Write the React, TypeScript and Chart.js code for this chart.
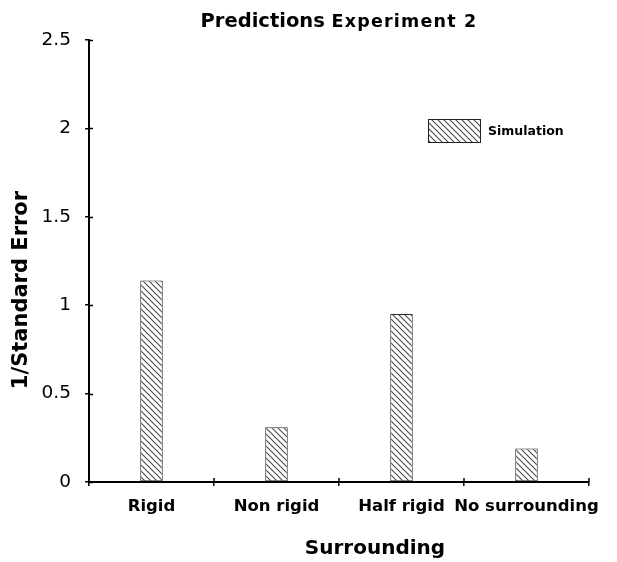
import React, { useEffect, useRef } from "react";
import { Chart, registerables } from "chart.js";

Chart.register(...registerables);

const categories = ["Rigid", "Non rigid", "Half rigid", "No surrounding"];
const simulationValues = [1.14, 0.31, 0.95, 0.19];
const yTickValues = [0, 0.5, 1, 1.5, 2, 2.5];
const yTickLabels = ["0", "0.5", "1", "1.5", "2", "2.5"];
const seriesLabel = "Simulation";
const titleMain = "Predictions";
const titleSub = "Experiment 2";
const xTitle = "Surrounding";
const yTitle = "1/Standard Error";

const FONT = "'DejaVu Sans', 'Liberation Sans', Arial, sans-serif";

function makeHatch(): CanvasPattern | string {
  const c = document.createElement("canvas");
  const s = 6;
  c.width = s;
  c.height = s;
  const g = c.getContext("2d");
  if (!g) return "#fff";
  g.fillStyle = "#fff";
  g.fillRect(0, 0, s, s);
  g.strokeStyle = "#4a4a4a";
  g.lineWidth = 1.1;
  g.beginPath();
  g.moveTo(-1, -1);
  g.lineTo(s + 1, s + 1);
  g.moveTo(-1, s - 1);
  g.lineTo(1, s + 1);
  g.moveTo(s - 1, -1);
  g.lineTo(s + 1, 1);
  g.stroke();
  return g.createPattern(c, "repeat") || "#fff";
}

export default function App() {
  const ref = useRef<HTMLCanvasElement | null>(null);

  useEffect(() => {
    if (!ref.current) return;
    const hatch = makeHatch();

    const decor = {
      id: "decor",
      afterDraw(chart: any) {
        const ctx = chart.ctx;
        const area = chart.chartArea;
        const xs = chart.scales.x;
        const ys = chart.scales.y;
        ctx.save();
        // inner tick stubs
        ctx.strokeStyle = "#000";
        ctx.lineWidth = 1.5;
        ctx.beginPath();
        for (const v of yTickValues) {
          const py = Math.round(ys.getPixelForValue(v)) + 0.5;
          ctx.moveTo(area.left, py);
          ctx.lineTo(area.left + 4, py);
        }
        const step = xs.getPixelForValue(1) - xs.getPixelForValue(0);
        for (let i = 0; i <= categories.length; i++) {
          const px = xs.getPixelForValue(0) - step / 2 + i * step;
          ctx.moveTo(px, area.bottom);
          ctx.lineTo(px, area.bottom - 4);
        }
        ctx.stroke();

        // title
        ctx.fillStyle = "#000";
        ctx.textBaseline = "alphabetic";
        const f1 = `bold 19.5px ${FONT}`;
        const f2 = `bold 17.5px ${FONT}`;
        ctx.font = f1;
        const w1 = ctx.measureText(titleMain + " ").width;
        ctx.font = f2;
        (ctx as any).letterSpacing = "1.2px";
        const w2 = ctx.measureText(titleSub).width;
        (ctx as any).letterSpacing = "0px";
        const cx = (area.left + area.right) / 2;
        const startX = cx - (w1 + w2) / 2;
        ctx.textAlign = "left";
        ctx.font = f1;
        ctx.fillText(titleMain, startX, 27);
        ctx.font = f2;
        (ctx as any).letterSpacing = "1.2px";
        ctx.fillText(titleSub, startX + w1, 27);
        (ctx as any).letterSpacing = "0px";

        // axis titles
        ctx.font = `bold 20px ${FONT}`;
        ctx.textAlign = "center";
        ctx.textBaseline = "middle";
        ctx.fillText(xTitle, 375, 549);
        ctx.save();
        ctx.translate(22, 290);
        ctx.rotate(-Math.PI / 2);
        ctx.font = `bold 21px ${FONT}`;
        ctx.fillText(yTitle, 0, 0);
        ctx.restore();

        // legend
        const bx = 428, by = 119, bw = 52, bh = 23;
        ctx.fillStyle = hatch as any;
        ctx.fillRect(bx, by, bw, bh);
        ctx.strokeStyle = "#222";
        ctx.lineWidth = 1;
        ctx.strokeRect(bx + 0.5, by + 0.5, bw, bh);
        ctx.fillStyle = "#000";
        ctx.font = `bold 12.5px ${FONT}`;
        ctx.textAlign = "left";
        ctx.textBaseline = "middle";
        ctx.fillText(seriesLabel, 488, by + bh / 2 + 1);
        ctx.restore();
      },
    };

    const chart = new Chart(ref.current, {
      type: "bar",
      data: {
        labels: categories,
        datasets: [
          {
            label: seriesLabel,
            data: simulationValues,
            backgroundColor: hatch as any,
            borderColor: "#2a2a2a",
            borderWidth: 1,
            borderSkipped: false,
            barPercentage: 1,
            categoryPercentage: 0.18,
          },
        ],
      },
      options: {
        animation: false,
        responsive: false,
        maintainAspectRatio: false,
        layout: { padding: { left: 0, top: 40, right: 28, bottom: 0 } },
        plugins: {
          legend: { display: false },
          title: { display: false },
          tooltip: { enabled: false },
        },
        scales: {
          x: {
            grid: {
              display: true,
              drawOnChartArea: false,
              drawTicks: true,
              tickLength: 4,
              color: "#000",
              lineWidth: 1.5,
              offset: true,
            },
            border: { display: true, color: "#000", width: 2 },
            ticks: {
              color: "#000",
              font: { family: FONT, size: 16.5, weight: "bold" },
              padding: 11,
              maxRotation: 0,
              autoSkip: false,
            },
            title: { display: false },
            afterFit: (s: any) => {
              s.height = 80;
            },
          },
          y: {
            min: 0,
            max: 2.5,
            afterBuildTicks: (s: any) => {
              s.ticks = yTickValues.map((v) => ({ value: v }));
            },
            grid: {
              display: true,
              drawOnChartArea: false,
              drawTicks: true,
              tickLength: 4,
              color: "#000",
              lineWidth: 1.5,
            },
            border: { display: true, color: "#000", width: 2 },
            ticks: {
              color: "#000",
              font: { family: FONT, size: 18.5 },
              padding: 14,
              callback: (_v: any, i: number) => yTickLabels[i],
            },
            title: { display: false },
            afterFit: (s: any) => {
              s.width = 89;
            },
          },
        },
      },
      plugins: [decor],
    });

    return () => chart.destroy();
  }, []);

  return (
    <div style={{ position: "absolute", left: 0, top: 0, width: 617, height: 562 }}>
      <canvas ref={ref} width={617} height={562} style={{ width: 617, height: 562 }} />
    </div>
  );
}
